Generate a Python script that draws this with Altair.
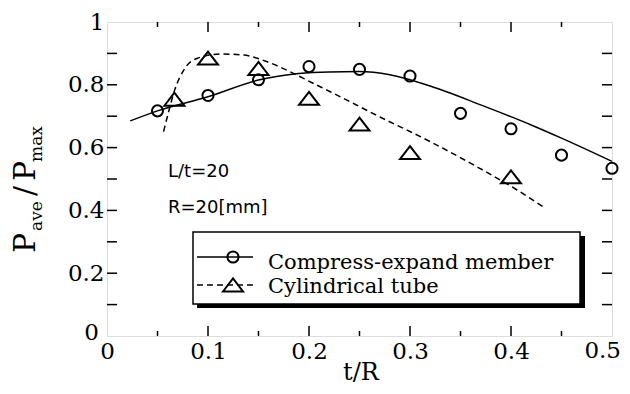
import altair as alt
import pandas as pd

# ---- data ----
circ_x = [0.05, 0.10, 0.15, 0.20, 0.25, 0.30, 0.35, 0.40, 0.45, 0.50]
circ_y = [0.717, 0.766, 0.816, 0.858, 0.849, 0.828, 0.709, 0.660, 0.576, 0.534]

tri_x = [0.0667, 0.10, 0.15, 0.20, 0.25, 0.30, 0.40]
tri_y = [0.754, 0.885, 0.852, 0.757, 0.675, 0.584, 0.507]

solid_x = [0.023, 0.05, 0.10, 0.15, 0.19, 0.22, 0.25, 0.28, 0.32, 0.37, 0.42, 0.45, 0.50]
solid_y = [0.685, 0.717, 0.762, 0.815, 0.836, 0.841, 0.842, 0.832, 0.796, 0.736, 0.672, 0.630, 0.556]

dash_x = [0.056, 0.061, 0.067, 0.076, 0.089, 0.112, 0.135, 0.158, 0.181, 0.204,
          0.221, 0.27, 0.32, 0.369, 0.406, 0.434]
dash_y = [0.651, 0.714, 0.783, 0.847, 0.884, 0.898, 0.895, 0.874, 0.842, 0.805,
          0.778, 0.698, 0.619, 0.534, 0.465, 0.407]

x_ticks = [0, 0.1, 0.2, 0.3, 0.4]
x_last = "0.5"
x_minor = [0.05, 0.15, 0.25, 0.35, 0.45]
x_major_inner = [0.1, 0.2, 0.3, 0.4]
y_ticks = [0.2, 0.4, 0.6, 0.8, 1]
y_inner = [0.1, 0.2, 0.3, 0.4, 0.5, 0.6, 0.7, 0.8, 0.9]

series_names = ["Compress-expand member", "Cylindrical tube"]
notes = ["L/t=20", "R=20[mm]"]

W, H = 505, 314
SERIF = "DejaVu Serif"
TRI = "M-1,0.65L0,-0.65L1,0.65Z"

xs = alt.Scale(domain=[0, 0.5], nice=False)
ys = alt.Scale(domain=[0, 1], nice=False)

df_c = pd.DataFrame({"x": circ_x, "y": circ_y})
df_t = pd.DataFrame({"x": tri_x, "y": tri_y})
df_s = pd.DataFrame({"x": solid_x, "y": solid_y})
df_d = pd.DataFrame({"x": dash_x, "y": dash_y})

one = alt.Data(values=[{}])

# axes (labels only)
base_axes = alt.Chart(pd.DataFrame({"x": [0.0], "y": [0.0]})).mark_point(opacity=0).encode(
    x=alt.X("x:Q", scale=xs,
            axis=alt.Axis(values=x_ticks, format=".1~f", title=None, grid=False, domain=False,
                          ticks=False, tickSize=0, labelFont=SERIF, labelFontSize=23,
                          labelColor="black", labelPadding=4, labelFlush=False)),
    y=alt.Y("y:Q", scale=ys,
            axis=alt.Axis(values=y_ticks, format=".1~f", title=None, grid=False, domain=False,
                          ticks=False, tickSize=0, labelFont=SERIF, labelFontSize=23,
                          labelColor="black", labelPadding=3, labelFlush=False)),
)
# y-axis "0" label, nudged up-left as in the reference
y0_label = alt.Chart(one).mark_text(font=SERIF, fontSize=23, align="right",
                                    baseline="alphabetic", color="black").encode(
    x=alt.value(-8), y=alt.value(318), text=alt.value("0"))
# last x label, kept inside the page edge
x5_label = alt.Chart(one).mark_text(font=SERIF, fontSize=23, align="right",
                                    baseline="top", color="black").encode(
    x=alt.value(514), y=alt.value(H + 4), text=alt.value(x_last))

# inward ticks
ydf = pd.DataFrame({"y": y_inner})
yt_left = alt.Chart(ydf).mark_rule(color="black", strokeWidth=1.5).encode(
    y=alt.Y("y:Q", scale=ys), x=alt.value(0), x2=alt.value(10))
yt_right = alt.Chart(ydf).mark_rule(color="black", strokeWidth=1.5).encode(
    y=alt.Y("y:Q", scale=ys), x=alt.value(W - 10), x2=alt.value(W))
xmaj = pd.DataFrame({"x": x_major_inner})
xmin = pd.DataFrame({"x": x_minor})
xt_bot = alt.Chart(xmaj).mark_rule(color="black", strokeWidth=1.5).encode(
    x=alt.X("x:Q", scale=xs), y=alt.value(H), y2=alt.value(H - 10))
xt_top = alt.Chart(xmaj).mark_rule(color="black", strokeWidth=1.5).encode(
    x=alt.X("x:Q", scale=xs), y=alt.value(0), y2=alt.value(10))
xm_bot = alt.Chart(xmin).mark_rule(color="black", strokeWidth=1.5).encode(
    x=alt.X("x:Q", scale=xs), y=alt.value(H), y2=alt.value(H - 5))
xm_top = alt.Chart(xmin).mark_rule(color="black", strokeWidth=1.5).encode(
    x=alt.X("x:Q", scale=xs), y=alt.value(0), y2=alt.value(5))

# curves
solid = alt.Chart(df_s).mark_line(color="black", strokeWidth=1.5, interpolate="monotone").encode(
    x=alt.X("x:Q", scale=xs), y=alt.Y("y:Q", scale=ys))
dashed = alt.Chart(df_d).mark_line(color="black", strokeWidth=1.5, strokeDash=[6, 4],
                                   interpolate="monotone").encode(
    x=alt.X("x:Q", scale=xs), y=alt.Y("y:Q", scale=ys))

circles = alt.Chart(df_c).mark_point(shape="circle", filled=False, color="black",
                                     strokeWidth=2, size=123, opacity=1).encode(
    x=alt.X("x:Q", scale=xs), y=alt.Y("y:Q", scale=ys))
tris = alt.Chart(df_t).mark_point(shape=TRI, filled=False, color="black",
                                  strokeWidth=2, size=400, opacity=1).encode(
    x=alt.X("x:Q", scale=xs), y=alt.Y("y:Q", scale=ys))

# annotations
note1 = alt.Chart(one).mark_text(font="DejaVu Sans", fontSize=18, align="left",
                                 baseline="alphabetic", color="black").encode(
    x=alt.value(61), y=alt.value(155), text=alt.value(notes[0]))
note2 = alt.Chart(one).mark_text(font="DejaVu Sans", fontSize=18, align="left",
                                 baseline="alphabetic", color="black").encode(
    x=alt.value(61), y=alt.value(191), text=alt.value(notes[1]))

# legend box with shadow
shadow = alt.Chart(one).mark_rect(color="black").encode(
    x=alt.value(90), x2=alt.value(478), y=alt.value(214), y2=alt.value(286))
box = alt.Chart(one).mark_rect(fill="white", stroke="black", strokeWidth=1.5).encode(
    x=alt.value(86), x2=alt.value(473), y=alt.value(210), y2=alt.value(282))
leg_l1 = alt.Chart(one).mark_rule(color="black", strokeWidth=1.5).encode(
    x=alt.value(90), x2=alt.value(146), y=alt.value(235))
leg_l2 = alt.Chart(one).mark_rule(color="black", strokeWidth=1.5, strokeDash=[6, 4]).encode(
    x=alt.value(90), x2=alt.value(150), y=alt.value(263))
leg_m1 = alt.Chart(one).mark_point(shape="circle", filled=False, color="black",
                                   strokeWidth=2, size=123, opacity=1).encode(
    x=alt.value(126), y=alt.value(235))
leg_m2 = alt.Chart(one).mark_point(shape=TRI, filled=False, color="black",
                                   strokeWidth=2, size=400, opacity=1).encode(
    x=alt.value(126), y=alt.value(263))
leg_t1 = alt.Chart(one).mark_text(font=SERIF, fontSize=21, align="left",
                                  baseline="alphabetic", color="black").encode(
    x=alt.value(161), y=alt.value(247), text=alt.value(series_names[0]))
leg_t2 = alt.Chart(one).mark_text(font=SERIF, fontSize=21, align="left",
                                  baseline="alphabetic", color="black").encode(
    x=alt.value(161), y=alt.value(271), text=alt.value(series_names[1]))

# axis titles
xtitle = alt.Chart(one).mark_text(font=SERIF, fontSize=24, align="center",
                                  baseline="alphabetic", color="black").encode(
    x=alt.value(254), y=alt.value(358), text=alt.value("t/R"))

def ypiece(txt, ycen, xb, size):
    return alt.Chart(one).mark_text(font=SERIF, fontSize=size, align="center",
                                    baseline="alphabetic", angle=270, color="black").encode(
        x=alt.value(xb), y=alt.value(ycen), text=alt.value(txt))

yt1 = ypiece("P", 221, -72, 30)
yt2 = ypiece("ave", 194, -65, 17)
yt3 = ypiece("/", 169, -72, 30)
yt4 = ypiece("P", 149, -72, 30)
yt5 = ypiece("max", 122, -65, 17)

chart = alt.layer(
    base_axes, y0_label, x5_label, yt_left, yt_right, xt_bot, xt_top, xm_bot, xm_top,
    solid, dashed, circles, tris, note1, note2,
    shadow, box, leg_l1, leg_l2, leg_m1, leg_m2, leg_t1, leg_t2,
    xtitle, yt1, yt2, yt3, yt4, yt5,
).properties(
    width=W, height=H,
    autosize=alt.AutoSizeParams(type="none"),
    padding={"left": 99, "top": 14, "right": 10, "bottom": 50},
).configure_view(stroke="black", strokeWidth=2).configure(background="white")

chart.save("out.html", embed_options={"renderer": "svg", "actions": False})
